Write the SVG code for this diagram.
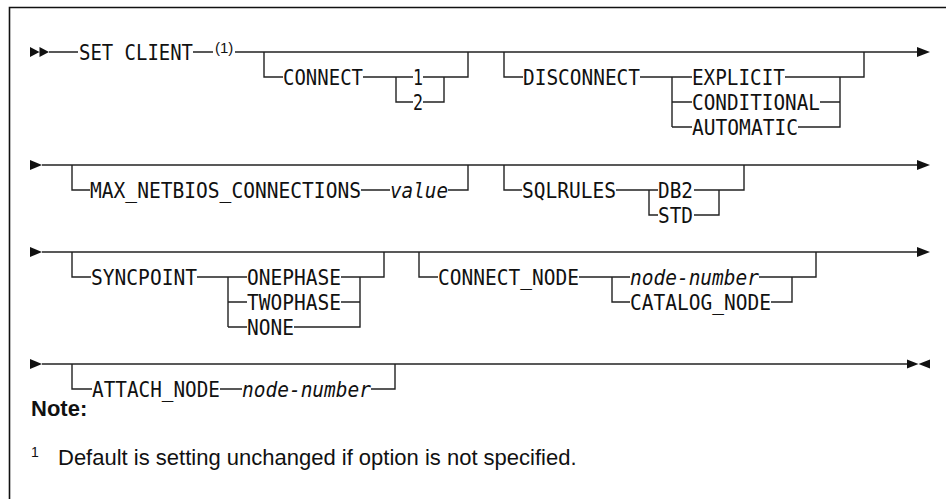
<svg xmlns="http://www.w3.org/2000/svg" width="946" height="499" viewBox="0 0 946 499">
<style>
.ln{fill:none;stroke:#222;stroke-width:1.4}
.fr{fill:none;stroke:#111;stroke-width:1.6}
.ah{fill:#111;stroke:none}
.t{font-family:"DejaVu Sans Mono","Liberation Mono",monospace;font-size:21px;fill:#111}
.v{font-style:italic}
.sup{font-family:"Liberation Sans",Arial,sans-serif;font-size:15px;fill:#111}
.note{font-family:"Liberation Sans",Arial,sans-serif;font-size:22px;font-weight:bold;fill:#111}
.fn{font-family:"Liberation Sans",Arial,sans-serif;font-size:22px;fill:#111}
.fsup{font-family:"Liberation Sans",Arial,sans-serif;font-size:14px;fill:#111}
</style>
<rect width="946" height="499" fill="#fff"/>
<path class="fr" d="M9.5,499 V7.5 H946"/>
<g id="connectors">
<path class="ah" d="M30,47 L39.5,52 L30,57 Z M39.5,47 L49,52 L39.5,57 Z"/>
<path class="ln" d="M49,52 H78 M193,52 H213 M235,52 H918"/>
<path class="ah" d="M917,47 L930,52 L917,57 Z"/>
<path class="ln" d="M264,52 V77 H283 M363,77 H413 M423,77 H468 V52 M396,77 V102 H413 M423,102 H444 V77"/>
<path class="ln" d="M504,52 V77 H523 M640,77 H692 M785,77 H864 V52 M672,77 V127 M672,102 H692 M820,102 H840 M672,127 H692 M798,127 H840 V77"/>
<path class="ah" d="M30,160 L42,165 L30,170 Z"/>
<path class="ln" d="M42,165 H918"/>
<path class="ah" d="M917,160 L930,165 L917,170 Z"/>
<path class="ln" d="M72,165 V190 H90 M361,190 H390 M448,190 H468 V165"/>
<path class="ln" d="M504,165 V190 H522 M616,190 H658 M649,190 V215 H658 M694,215 H719 V190 M694,190 H744 V165"/>
<path class="ah" d="M30,247 L42,252 L30,257 Z"/>
<path class="ln" d="M42,252 H918"/>
<path class="ah" d="M917,247 L930,252 L917,257 Z"/>
<path class="ln" d="M72,252 V277 H91 M197,277 H247 M341,277 H384 V252 M228,277 V327 M228,302 H247 M341,302 H360 M228,327 H247 M294,327 H360 V277"/>
<path class="ln" d="M419,252 V277 H438 M579,277 H630 M759,277 H816 V252 M612,277 V302 H630 M771,302 H792 V277"/>
<path class="ah" d="M30,359 L42,364 L30,369 Z"/>
<path class="ln" d="M42,364 H908"/>
<path class="ah" d="M907,359.5 L918.5,364 L907,368.5 Z M930,359.5 L918.5,364 L930,368.5 Z"/>
<path class="ln" d="M72,364 V389 H92 M220,389 H242 M371,389 H395 V364"/>
</g>
<g id="set-client"><text class="t" x="79" y="59.5" textLength="114" lengthAdjust="spacingAndGlyphs">SET CLIENT</text><text class="sup" x="215" y="53">(1)</text></g>
<g id="connect"><text class="t" x="283" y="84.5" textLength="80" lengthAdjust="spacingAndGlyphs">CONNECT</text><text class="t" x="413" y="84.5" textLength="10" lengthAdjust="spacingAndGlyphs">1</text><text class="t" x="413" y="109.5" textLength="10" lengthAdjust="spacingAndGlyphs">2</text></g>
<g id="disconnect"><text class="t" x="523" y="84.5" textLength="117" lengthAdjust="spacingAndGlyphs">DISCONNECT</text><text class="t" x="692" y="84.5" textLength="93" lengthAdjust="spacingAndGlyphs">EXPLICIT</text><text class="t" x="692" y="109.5" textLength="128" lengthAdjust="spacingAndGlyphs">CONDITIONAL</text><text class="t" x="692" y="134.5" textLength="106" lengthAdjust="spacingAndGlyphs">AUTOMATIC</text></g>
<g id="max-netbios"><text class="t" x="90" y="197.5" textLength="271" lengthAdjust="spacingAndGlyphs">MAX_NETBIOS_CONNECTIONS</text><text class="t v" x="390" y="197.5" textLength="58" lengthAdjust="spacingAndGlyphs">value</text></g>
<g id="sqlrules"><text class="t" x="522" y="197.5" textLength="94" lengthAdjust="spacingAndGlyphs">SQLRULES</text><text class="t" x="658" y="197.5" textLength="35" lengthAdjust="spacingAndGlyphs">DB2</text><text class="t" x="658" y="222.5" textLength="35" lengthAdjust="spacingAndGlyphs">STD</text></g>
<g id="syncpoint"><text class="t" x="91" y="284.5" textLength="106" lengthAdjust="spacingAndGlyphs">SYNCPOINT</text><text class="t" x="247" y="284.5" textLength="94" lengthAdjust="spacingAndGlyphs">ONEPHASE</text><text class="t" x="247" y="309.5" textLength="94" lengthAdjust="spacingAndGlyphs">TWOPHASE</text><text class="t" x="247" y="334.5" textLength="47" lengthAdjust="spacingAndGlyphs">NONE</text></g>
<g id="connect-node"><text class="t" x="438" y="284.5" textLength="141" lengthAdjust="spacingAndGlyphs">CONNECT_NODE</text><text class="t v" x="630" y="284.5" textLength="129" lengthAdjust="spacingAndGlyphs">node-number</text><text class="t" x="630" y="309.5" textLength="141" lengthAdjust="spacingAndGlyphs">CATALOG_NODE</text></g>
<g id="attach-node"><text class="t" x="92" y="396.5" textLength="128" lengthAdjust="spacingAndGlyphs">ATTACH_NODE</text><text class="t v" x="242" y="396.5" textLength="129" lengthAdjust="spacingAndGlyphs">node-number</text></g>
<g id="note"><text class="note" x="31" y="416">Note:</text><text class="fsup" x="31" y="457">1</text><text class="fn" x="58" y="465">Default is setting unchanged if option is not specified.</text></g>
</svg>
